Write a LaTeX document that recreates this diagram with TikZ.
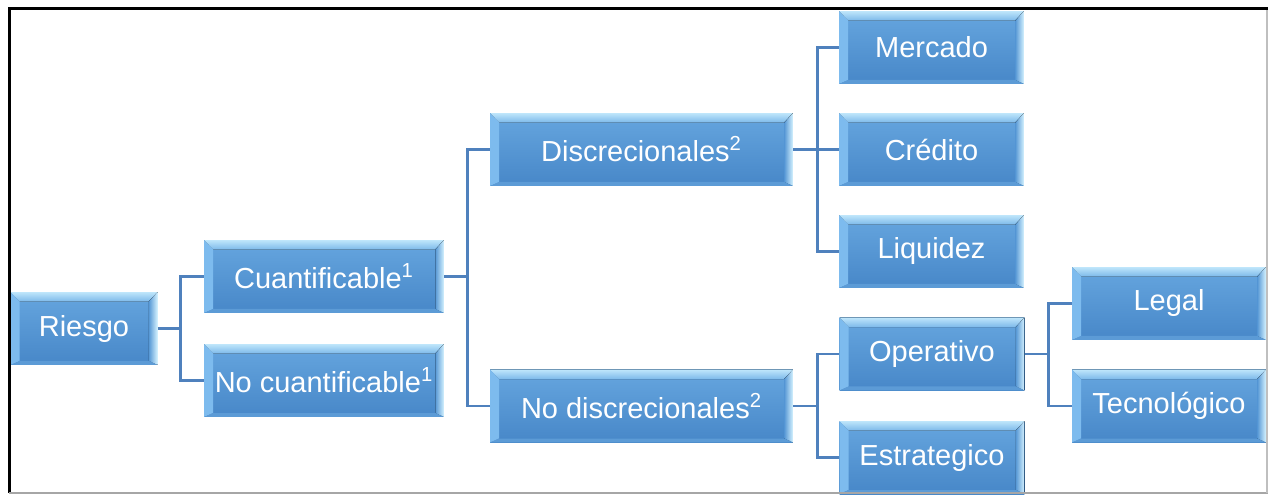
\documentclass[tikz,border=0pt]{standalone}
\usepackage{fontspec}
\setmainfont{Liberation Sans}
\usetikzlibrary{calc}

\definecolor{faceTop}{HTML}{66A6DF}
\definecolor{faceBot}{HTML}{4787C8}
\definecolor{bevTopA}{HTML}{BFE6FB}
\definecolor{bevTopB}{HTML}{7DB9EA}
\definecolor{bevLeft}{HTML}{7DBBEE}
\definecolor{bevRA}{HTML}{5A9AD6}
\definecolor{bevRB}{HTML}{D6F3FF}
\definecolor{bevBot}{HTML}{5C9BD6}
\definecolor{connCol}{HTML}{4F81BD}

\newcommand{\boxfont}{\fontsize{16.5}{19}\selectfont}

\tikzset{
  bevelbox/.style={rectangle, inner sep=0pt, minimum height=1.46cm,
    text=white, font=\boxfont,
    path picture={
      \coordinate (bbsw) at (path picture bounding box.south west);
      \coordinate (bbne) at (path picture bounding box.north east);
      \coordinate (bbnw) at (path picture bounding box.north west);
      \coordinate (bbse) at (path picture bounding box.south east);
      \fill[top color=faceTop, bottom color=faceBot] (bbsw) rectangle (bbne);
      % top bevel
      \fill[top color=bevTopA, bottom color=bevTopB]
        (bbnw) -- (bbne) -- ($(bbne)+(-0.18cm,-0.19cm)$) -- ($(bbnw)+(0.18cm,-0.19cm)$) -- cycle;
      % left bevel
      \fill[bevLeft]
        (bbnw) -- ($(bbnw)+(0.18cm,-0.19cm)$) -- ($(bbsw)+(0.18cm,0.08cm)$) -- (bbsw) -- cycle;
      % right bevel
      \fill[left color=bevRA, right color=bevRB]
        (bbne) -- (bbse) -- ($(bbse)+(-0.17cm,0.08cm)$) -- ($(bbne)+(-0.17cm,-0.19cm)$) -- cycle;
      % bottom bevel
      \fill[bevBot]
        (bbsw) -- ($(bbsw)+(0.18cm,0.08cm)$) -- ($(bbse)+(-0.17cm,0.08cm)$) -- (bbse) -- cycle;
    }},
  lvlone/.style={bevelbox, minimum width=2.94cm},
  lvltwo/.style={bevelbox, minimum width=4.80cm},
  lvlthree/.style={bevelbox, minimum width=6.06cm},
  lvlfour/.style={bevelbox, minimum width=3.70cm},
  lvlfive/.style={bevelbox, minimum width=3.88cm},
  conn/.style={draw=connCol, line width=1.6pt},
}

\begin{document}
\begin{tikzpicture}[x=0.02cm, y=-0.02cm]
\useasboundingbox (0,0) rectangle (1268,494);

% nodes of the tree
\node[lvlone]   (riesgo)  at (84,328.5)    {Riesgo};
\node[lvltwo]   (cuant)   at (324,276.5)   {Cuantificable\textsuperscript{1}};
\node[lvltwo]   (nocuant) at (324,380.5)   {No cuantificable\textsuperscript{1}};
\node[lvlthree] (disc)    at (641.5,149.5) {Discrecionales\textsuperscript{2}};
\node[lvlthree] (nodisc)  at (641.5,406)   {No discrecionales\textsuperscript{2}};
\node[lvlfour]  (mercado) at (931.5,47.5)  {Mercado};
\node[lvlfour]  (credito) at (931.5,149.5) {Crédito};
\node[lvlfour]  (liquidez) at (931.5,251.5) {Liquidez};
\node[lvlfour]  (operativo) at (932,354)   {Operativo};
\node[lvlfour]  (estrategico) at (932,457.5) {Estrategico};
\node[lvlfive]  (legal)   at (1169,303.5)  {Legal};
\node[lvlfive]  (tecno)   at (1169,406)    {Tecnológico};

% elbow connectors
\draw[conn] (riesgo.east) -- ++(23,0) |- (cuant.west);
\draw[conn] (riesgo.east) -- ++(23,0) |- (nocuant.west);
\draw[conn] (cuant.east) -- ++(23,0) |- (disc.west);
\draw[conn] (cuant.east) -- ++(23,0) |- (nodisc.west);
\draw[conn] (disc.east) -- ++(24,0) |- (mercado.west);
\draw[conn] (disc.east) -- ++(24,0) |- (credito.west);
\draw[conn] (disc.east) -- ++(24,0) |- (liquidez.west);
\draw[conn] (nodisc.east) -- ++(24,0) |- (operativo.west);
\draw[conn] (nodisc.east) -- ++(24,0) |- (estrategico.west);
\draw[conn] (operativo.east) -- ++(24,0) |- (legal.west);
\draw[conn] (operativo.east) -- ++(24,0) |- (tecno.west);

% frame
\draw[black, line width=0.07cm] (8,8.5) -- (1268,8.5);
\draw[black, line width=0.065cm] (9.6,7) -- (9.6,493);
\draw[gray!70, line width=0.03cm] (9,492.8) -- (1268,492.8);
\draw[gray!50, line width=0.03cm] (1267.2,10) -- (1267.2,493);
\end{tikzpicture}
\end{document}
